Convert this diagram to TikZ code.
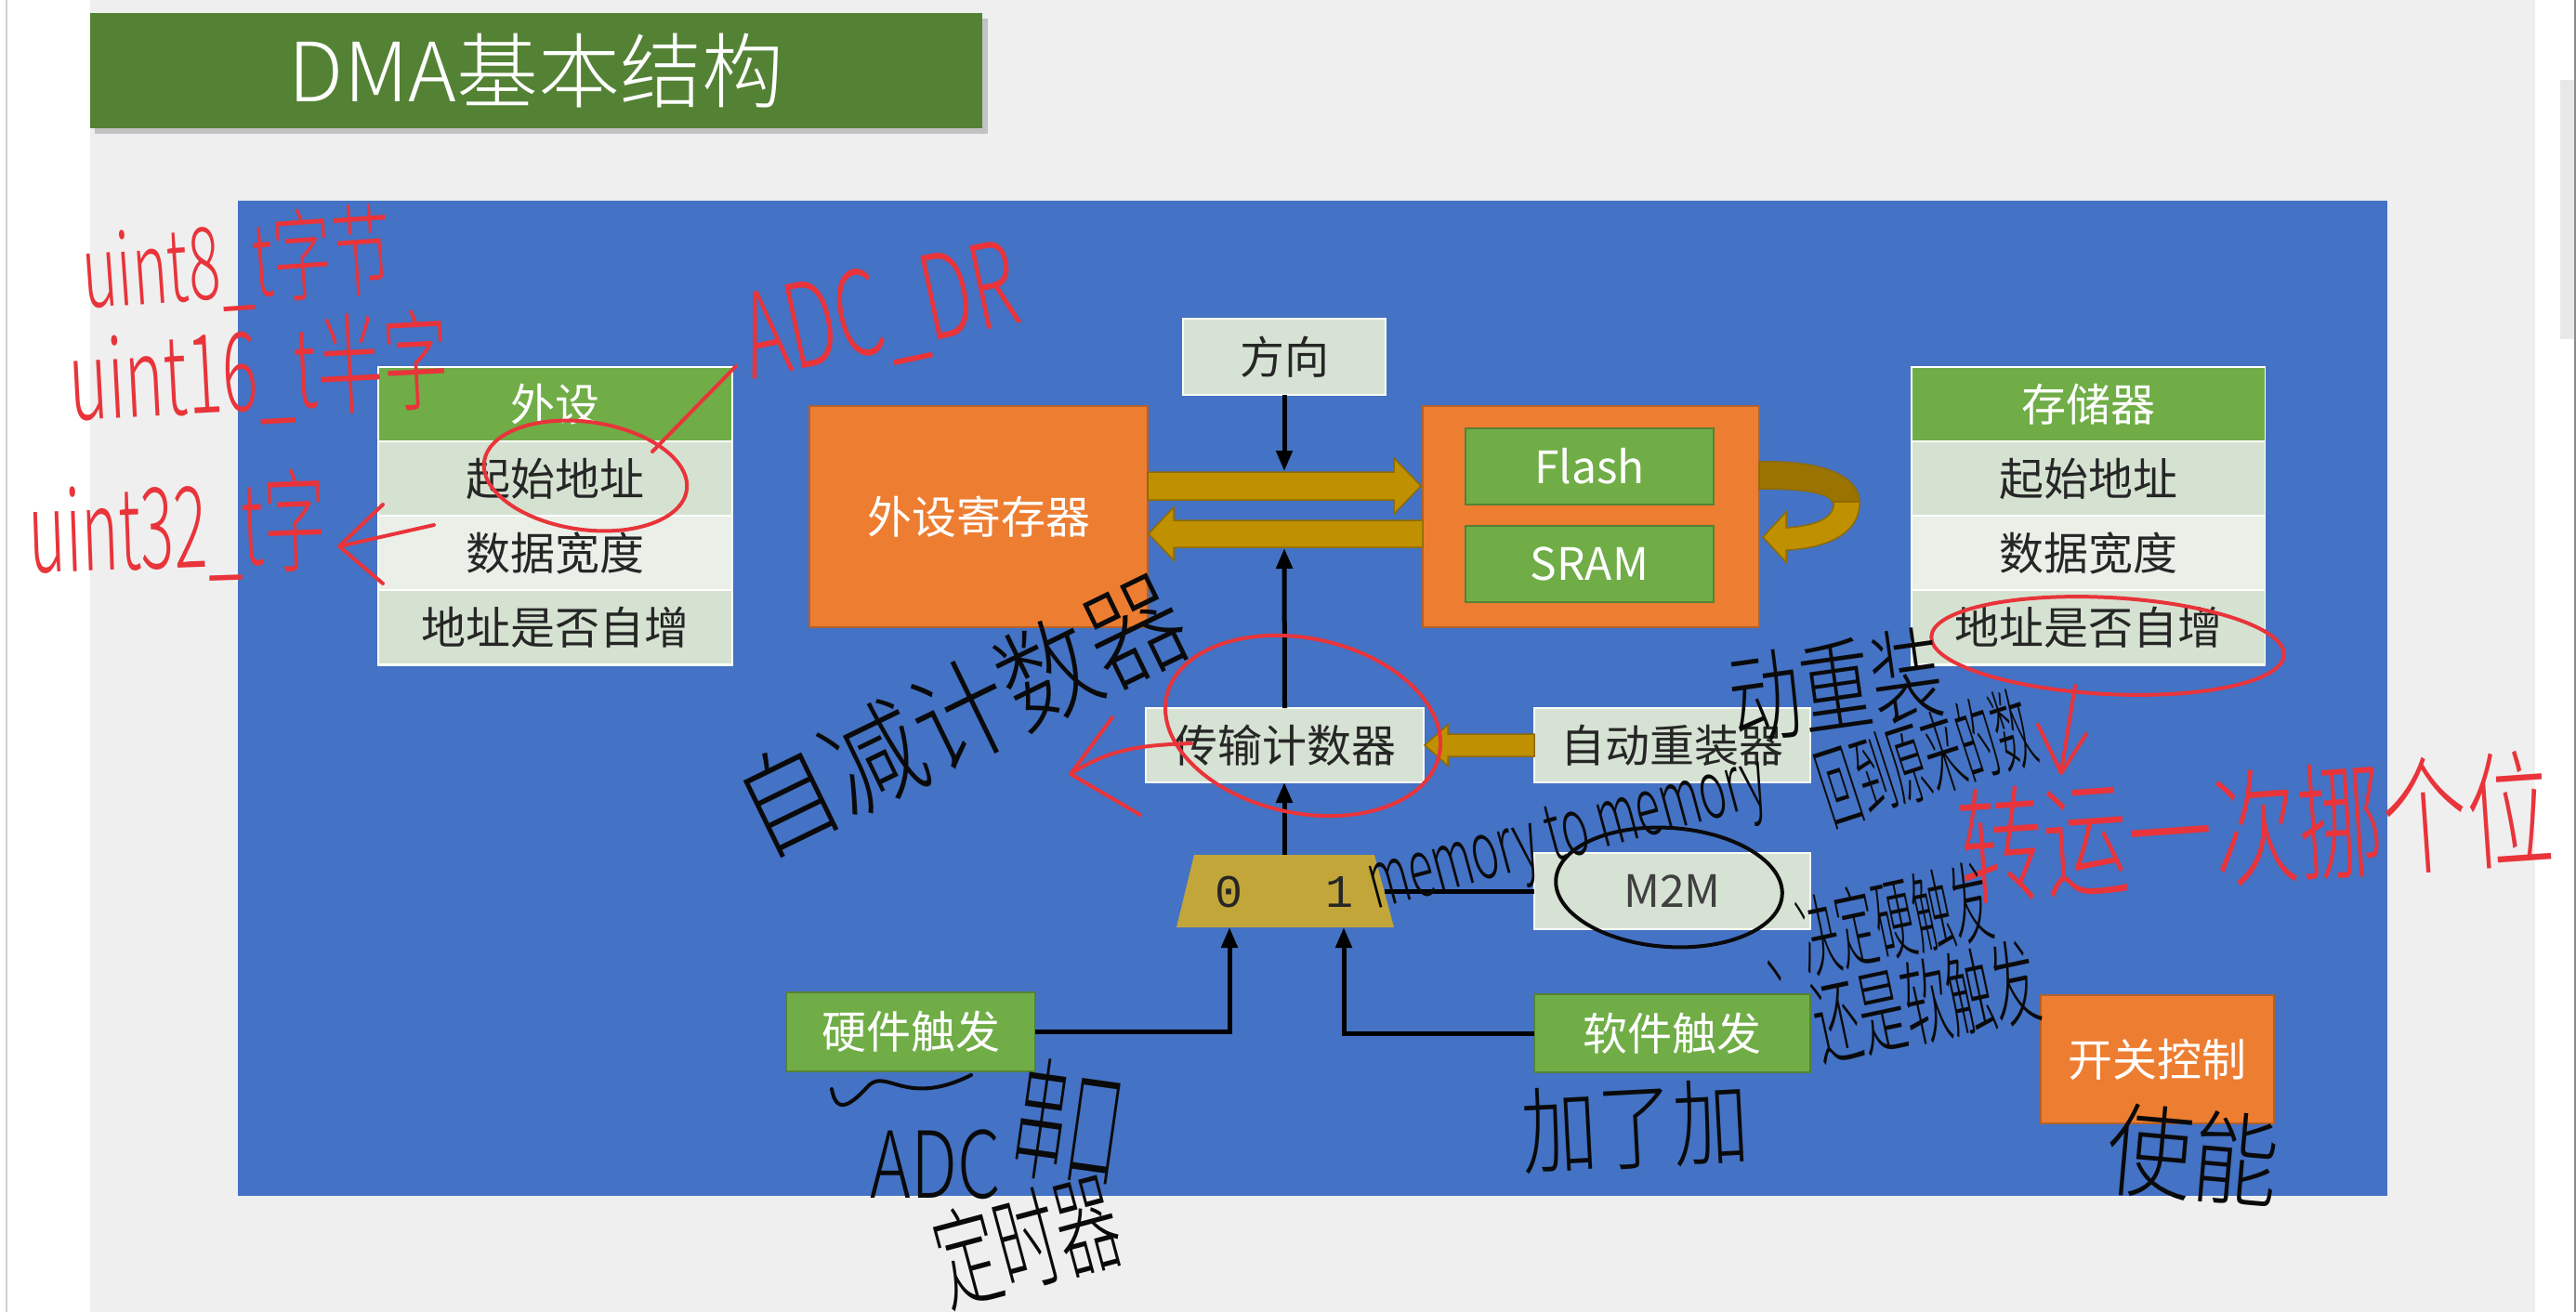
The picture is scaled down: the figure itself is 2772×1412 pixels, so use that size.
\documentclass[tikz,border=0pt]{standalone}
\usepackage{fontspec}
\usepackage{graphicx}
\setmainfont{Noto Sans CJK SC}
\newfontfamily\digitfont{Liberation Mono}
% pen-like face for the ink notes: the light cut when it is installed
\IfFontExistsTF{Noto Sans CJK SC Light}
  {\newfontfamily\inkfont{Noto Sans CJK SC Light}}
  {\newfontfamily\inkfont{Noto Sans CJK SC}}
\usetikzlibrary{arrows.meta,calc}

\definecolor{pagegray}{HTML}{EFEFEF}
\definecolor{titlegreen}{HTML}{548235}
\definecolor{slideblue}{HTML}{4472C4}
\definecolor{accgreen}{HTML}{70AD47}
\definecolor{accgreenedge}{HTML}{548235}
\definecolor{rowdark}{HTML}{D6E2D1}
\definecolor{rowlight}{HTML}{EAF0E8}
\definecolor{boxfill}{HTML}{D6E2D3}
\definecolor{accorange}{HTML}{ED7D31}
\definecolor{orangeedge}{HTML}{B2622A}
\definecolor{gold}{HTML}{BF9000}
\definecolor{goldedge}{HTML}{8F6B00}
\definecolor{golddark}{HTML}{9A7300}
\definecolor{muxfill}{HTML}{C2A63A}
\definecolor{inkred}{HTML}{E8343A}
\definecolor{inkblack}{HTML}{0A0A0A}
\definecolor{textdark}{HTML}{262626}

% handwritten note squeezed into a given box (width, total height)
\newcommand{\scribble}[3]{\resizebox*{#1pt}{#2pt}{\inkfont #3}}

\tikzset{
  cell/.style={inner sep=0, outer sep=0, minimum width=379, minimum height=78,
    font=\fontsize{48}{58}\selectfont, text=textdark},
  hdr/.style={cell, fill=accgreen, text=white},
  lightbox/.style={inner sep=0, outer sep=0, fill=boxfill, draw=white!85!boxfill,
    line width=2, font=\fontsize{48}{58}\selectfont, text=textdark},
  orangebox/.style={inner sep=0, outer sep=0, fill=accorange, draw=orangeedge,
    line width=2, font=\fontsize{48}{58}\selectfont, text=white},
  greenbox/.style={inner sep=0, outer sep=0, fill=accgreen, draw=accgreenedge,
    line width=2, font=\fontsize{48}{58}\selectfont, text=white},
  wire/.style={draw=black, line width=5, -{Triangle[length=22pt,width=17pt]}},
  plainwire/.style={draw=black, line width=5},
  blockarrow/.style={fill=gold, draw=goldedge, line width=1.5},
  digit/.style={inner sep=0, font=\digitfont\fontsize{50}{56}\selectfont, text=textdark},
  hwr/.style={inner sep=0, text=inkred},
  hwb/.style={inner sep=0, text=inkblack},
  redink/.style={draw=inkred, line width=4, line cap=round, line join=round},
  blackink/.style={draw=inkblack, line width=4, line cap=round, line join=round},
}

\begin{document}
\begin{tikzpicture}[x=1pt,y=-1pt]
\useasboundingbox (0,0) rectangle (2772,1412);

% page and window frame
\fill[white] (0,0) rectangle (2772,1412);
\fill[pagegray] (97,0) rectangle (2728,1412);
\draw[black!18, line width=2] (7,0) -- (7,1412);
\fill[black!9] (2755,86) rectangle (2772,365);
\draw[black!45, line width=2] (2771,0) -- (2771,1412);

% title bar with drop shadow
\fill[black!45, opacity=0.45] (102,20) rectangle (1063,144);
\node[fill=titlegreen, minimum width=960, minimum height=124, inner sep=0,
      text=white, font=\inkfont\fontsize{88}{100}\selectfont] (title) at (577,76) {DMA基本结构};

% blue panel
\fill[slideblue] (256,216) rectangle (2569,1287);

% peripheral parameter table
\fill[white] (406,394) rectangle (789,717);
\node[hdr]              (pHead)  at (597.5,435) {外设};
\node[cell,fill=rowdark]  (pAddr)  at (597.5,515) {起始地址};
\node[cell,fill=rowlight] (pWidth) at (597.5,595) {数据宽度};
\node[cell,fill=rowdark]  (pInc)   at (597.5,675) {地址是否自增};

% memory parameter table
\fill[white] (2056,394) rectangle (2438,717);
\node[hdr]              (mHead)  at (2247,435) {存储器};
\node[cell,fill=rowdark]  (mAddr)  at (2247,515) {起始地址};
\node[cell,fill=rowlight] (mWidth) at (2247,595) {数据宽度};
\node[cell,fill=rowdark]  (mInc)   at (2247,675) {地址是否自增};

% central blocks
\node[lightbox, minimum width=218, minimum height=82] (dir) at (1382,384) {方向};
\node[orangebox, minimum width=364, minimum height=238] (preg) at (1053,556) {外设寄存器};
\node[orangebox, minimum width=362, minimum height=238] (memblk) at (1712,556) {};
\node[greenbox, minimum width=267, minimum height=82] (flash) at (1710.5,502) {Flash};
\node[greenbox, minimum width=267, minimum height=82] (sram) at (1710.5,607) {SRAM};
\node[lightbox, minimum width=299, minimum height=80] (cnt) at (1382.5,802) {传输计数器};
\node[lightbox, minimum width=297, minimum height=80] (reload) at (1799.5,802) {自动重装器};
\node[lightbox, minimum width=297, minimum height=82] (m2m) at (1799.5,959) {\color{black!75}M2M};

% selector between hardware and software trigger
\fill[muxfill] (1285,920) -- (1479,920) -- (1500,998) -- (1266,998) -- cycle;
\coordinate (muxTop) at (1382,920);
\coordinate (muxRight) at (1490,959);
\coordinate (mux0in) at (1323,998);
\coordinate (mux1in) at (1446,998);
\node[digit] (mux0) at (1322,960) {0};
\node[digit] (mux1) at (1441,960) {1};

\node[greenbox, minimum width=268, minimum height=85] (hw) at (980,1110.5) {硬件触发};
\node[greenbox, minimum width=297, minimum height=84] (sw) at (1799.5,1112) {软件触发};
\node[orangebox, minimum width=251, minimum height=138] (en) at (2321.5,1140) {开关控制};

% data paths between peripheral register and memory
\fill[blockarrow] (1235,508) -- (1500,508) -- (1500,493) -- (1529,523)
   -- (1500,553) -- (1500,538) -- (1235,538) -- cycle;
\fill[blockarrow] (1531,560) -- (1263,560) -- (1263,546) -- (1236,574.5)
   -- (1263,603) -- (1263,589) -- (1531,589) -- cycle;
% reload value into the transfer counter
\fill[blockarrow] (1651,790) -- (1558,790) -- (1558,780) -- (1533,802)
   -- (1558,824) -- (1558,814) -- (1651,814) -- cycle;
% memory to memory loop arrow
\fill[golddark, draw=goldedge, line width=1.5] (1893,497)
   .. controls (1960,495) and (2002,512) .. (2001,542) -- (1973,542)
   .. controls (1970,530) and (1940,526) .. (1893,526) -- cycle;
\fill[blockarrow] (1973,540) .. controls (1975,557) and (1955,566) .. (1922,568)
   -- (1922,551) -- (1897,578) -- (1922,605) -- (1922,592)
   .. controls (1966,590) and (2002,574) .. (2001,540) -- cycle;

% control wires
\coordinate (fwdTop) at (1382,507);
\coordinate (bwdBot) at (1382,590);
\draw[wire] (dir.south) -- (fwdTop);
\draw[wire] (cnt.north) -- (bwdBot);
\draw[wire] (muxTop) -- (muxTop |- cnt.south);
\draw[plainwire] (m2m.west) -- (muxRight);
\draw[wire] (hw.east) -| (mux0in);
\draw[wire] (sw.west) -| (mux1in);

% ---- red ink notes ----
\node[hwr, rotate=4] (noteA) at (255,282) {\scribble{333}{105}{uint8\_t字节}};
\node[hwr, rotate=3] (noteB) at (279,400) {\scribble{410}{115}{uint16\_t半字}};
\node[hwr, rotate=2] (noteC) at (191,568) {\scribble{320}{118}{uint32\_t字}};
\draw[redink] (412,543) -- (365,588) -- (412,628);
\draw[redink] (365,588) -- (467,565);
\draw[redink, rotate around={-8:(630,512)}] (630,512) ellipse [x radius=110, y radius=58];
\draw[redink] (702,486) -- (792,394);
\node[hwr, rotate=12] (noteDR) at (948,340) {\scribble{300}{110}{ADC\_DR}};
\draw[redink, rotate around={-12:(1402,781)}] (1402,781) ellipse [x radius=150, y radius=94];
\draw[redink] (1282,800) .. controls (1230,802) and (1195,805) .. (1152,833);
\draw[redink] (1197,772) -- (1152,833) -- (1227,877);
\draw[redink, rotate around={-3:(2268,695)}] (2268,695) ellipse [x radius=190, y radius=52];
\draw[redink] (2233,738) -- (2218,830);
\draw[redink] (2193,780) -- (2218,832) -- (2245,790);
\node[hwr, rotate=4] (noteMove) at (2427,890) {\scribble{640}{125}{转运一次挪个位}};

% ---- black ink notes ----
\node[hwb, rotate=26] (noteDec) at (1034,769) {\scribble{520}{110}{自减计数器}};
\node[hwb, rotate=15] (noteM2M) at (1688,903) {\scribble{440}{80}{memory to memory}};
\draw[blackink, rotate around={-4:(1796,955)}] (1796,955) ellipse [x radius=122, y radius=64];
\node[hwb, rotate=8] (noteReload) at (1976,738) {\scribble{230}{100}{动重装}};
\node[hwb, rotate=18] (noteBack) at (2072,815) {\scribble{235}{90}{回到原来的数}};
\node[hwb, rotate=12] (noteSel) at (2018,993) {\scribble{250}{88}{、决定硬触发}};
\node[hwb, rotate=12] (noteSel2) at (2072,1078) {\scribble{245}{92}{还是软触发}};
\draw[blackink] (895,1172) .. controls (900,1200) and (915,1190) .. (935,1168)
   .. controls (955,1150) and (975,1192) .. (1045,1157);
\node[hwb] (noteADC) at (1007,1253) {\scribble{140}{75}{ADC}};
\node[hwb, rotate=-8] (noteUart) at (1150,1208) {\scribble{115}{130}{串口}};
\node[hwb, rotate=15] (noteTim) at (1105,1335) {\scribble{200}{108}{定时器}};
\node[hwb, rotate=3] (noteSw) at (1760,1212) {\scribble{245}{92}{加了加}};
\node[hwb, rotate=-5] (noteEn) at (2360,1243) {\scribble{185}{100}{使能}};
\end{tikzpicture}
\end{document}
